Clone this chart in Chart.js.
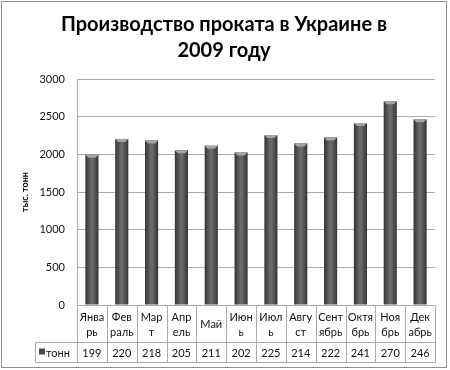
<!DOCTYPE html>
<html>
<head>
<meta charset="utf-8">
<script src="https://cdn.jsdelivr.net/npm/chart.js@4.4.1/dist/chart.umd.min.js"></script>
<style>
  html, body { margin: 0; padding: 0; background: #fff; }
  #wrap { width: 450px; height: 370px; }
</style>
</head>
<body>
<div id="wrap"><canvas id="chart" width="450" height="370"></canvas></div>
<script>
// Data stuff
var months = [
  ['Янва', 'рь'], ['Фев', 'раль'], ['Мар', 'т'], ['Апр', 'ель'], ['Май'], ['Июн', 'ь'],
  ['Июл', 'ь'], ['Авгу', 'ст'], ['Сент', 'ябрь'], ['Октя', 'брь'], ['Ноя', 'брь'], ['Дек', 'абрь']
];
var tonnes = [1995, 2205, 2185, 2055, 2115, 2025, 2255, 2145, 2225, 2415, 2705, 2465];
var seriesName = 'тонн';
var titleLines = ['Производство проката в Украине в', '2009 году'];
var yTicks = [0, 500, 1000, 1500, 2000, 2500, 3000];

var FONT = 'Lato, "Open Sans", sans-serif';
var gridCol = '#ababab';

// frame, title
const frame = {
  id: 'frame',
  beforeDraw(chart) {
    const c = chart.ctx;
    c.save();
    c.fillStyle = '#fff';
    c.fillRect(0, 0, chart.width, chart.height);
    c.strokeStyle = '#8e8e8e';
    c.lineWidth = 1;
    c.strokeRect(1.5, 1.5, 445, 366);
    c.fillStyle = '#000';
    c.font = 'bold 20px ' + FONT;
    c.textAlign = 'center';
    c.textBaseline = 'alphabetic';
    c.fillText(titleLines[0], 224, 31);
    c.fillText(titleLines[1], 224, 57);
    c.restore();
  }
};

// bars with bevel + data table
const barsAndTable = {
  id: 'barsAndTable',
  afterDatasetsDraw(chart) {
    const c = chart.ctx;
    const meta = chart.getDatasetMeta(0);
    c.save();
    meta.data.forEach(function (b) {
      const w = b.width, l = b.x - w / 2, r = b.x + w / 2;
      const g = c.createLinearGradient(l, 0, r, 0);
      g.addColorStop(0, '#343434');
      g.addColorStop(0.45, '#6a6a6a');
      g.addColorStop(0.55, '#6a6a6a');
      g.addColorStop(1, '#343434');
      c.fillStyle = g;
      c.fillRect(l, b.y, w, b.base - b.y);
      c.fillStyle = '#a4a4a4';
      c.beginPath();
      c.moveTo(l, b.y);
      c.lineTo(r, b.y);
      c.lineTo(r - 3, b.y + 3);
      c.lineTo(l + 3, b.y + 3);
      c.closePath();
      c.fill();
    });

    // table
    const xs = chart.scales.x;
    const area = chart.chartArea;
    const top = Math.round(area.bottom) + 0.5;
    const mid = top + 37;
    const bot = top + 57;
    const left = Math.round(area.left) + 0.5;
    const right = Math.round(area.right) + 0.5;
    const legL = 35.5;
    const step = (area.right - area.left) / months.length;

    c.strokeStyle = gridCol;
    c.lineWidth = 1;
    c.beginPath();
    c.moveTo(left, top); c.lineTo(right, top);
    c.moveTo(legL, mid); c.lineTo(right, mid);
    c.moveTo(legL, bot); c.lineTo(right, bot);
    c.moveTo(legL, mid); c.lineTo(legL, bot);
    for (let i = 0; i <= months.length; i++) {
      const x = Math.round(area.left + i * step) + 0.5;
      c.moveTo(x, top); c.lineTo(x, bot);
    }
    c.stroke();

    c.fillStyle = '#111';
    c.font = '11px ' + FONT;
    c.textAlign = 'center';
    c.textBaseline = 'middle';
    months.forEach(function (m, i) {
      const x = xs.getPixelForValue(i);
      if (m.length === 1) {
        c.fillText(m[0], x, (top + mid) / 2);
      } else {
        c.fillText(m[0], x, top + 11.5);
        c.fillText(m[1], x, top + 26.5);
      }
      // table cell is too narrow, only 3 digits fit
      c.fillText(String(tonnes[i]).slice(0, 3), x, (mid + bot) / 2 + 0.5);
    });

    // legend key
    c.fillStyle = '#4a4a4a';
    c.fillRect(39, mid + 6, 6, 6);
    c.fillStyle = '#111';
    c.textAlign = 'left';
    c.fillText(seriesName, 46, (mid + bot) / 2 + 0.5);
    c.restore();
  }
};

new Chart(document.getElementById('chart'), {
  type: 'bar',
  data: {
    labels: months,
    datasets: [{
      label: seriesName,
      data: tonnes,
      backgroundColor: 'rgba(0,0,0,0)',
      borderWidth: 0,
      categoryPercentage: 1,
      barPercentage: 0.44
    }]
  },
  options: {
    responsive: false,
    animation: false,
    events: [],
    layout: { padding: { left: 20, right: 15, top: 79, bottom: 65 } },
    plugins: {
      legend: { display: false },
      title: { display: false },
      tooltip: { enabled: false }
    },
    scales: {
      x: { display: false },
      y: {
        min: 0,
        max: 3000,
        afterBuildTicks(scale) { scale.ticks = yTicks.map(v => ({ value: v })); },
        afterFit(scale) { scale.width = 57; },
        ticks: {
          color: '#111',
          font: { family: FONT, size: 11 },
          padding: 12,
          callback: v => String(v)
        },
        grid: { color: gridCol, drawTicks: false },
        border: { color: gridCol },
        title: {
          display: true,
          text: 'тыс. тонн',
          color: '#000',
          font: { family: FONT, size: 9, weight: 'bold' },
          padding: 0
        }
      }
    }
  },
  plugins: [frame, barsAndTable]
});
</script>
</body>
</html>
